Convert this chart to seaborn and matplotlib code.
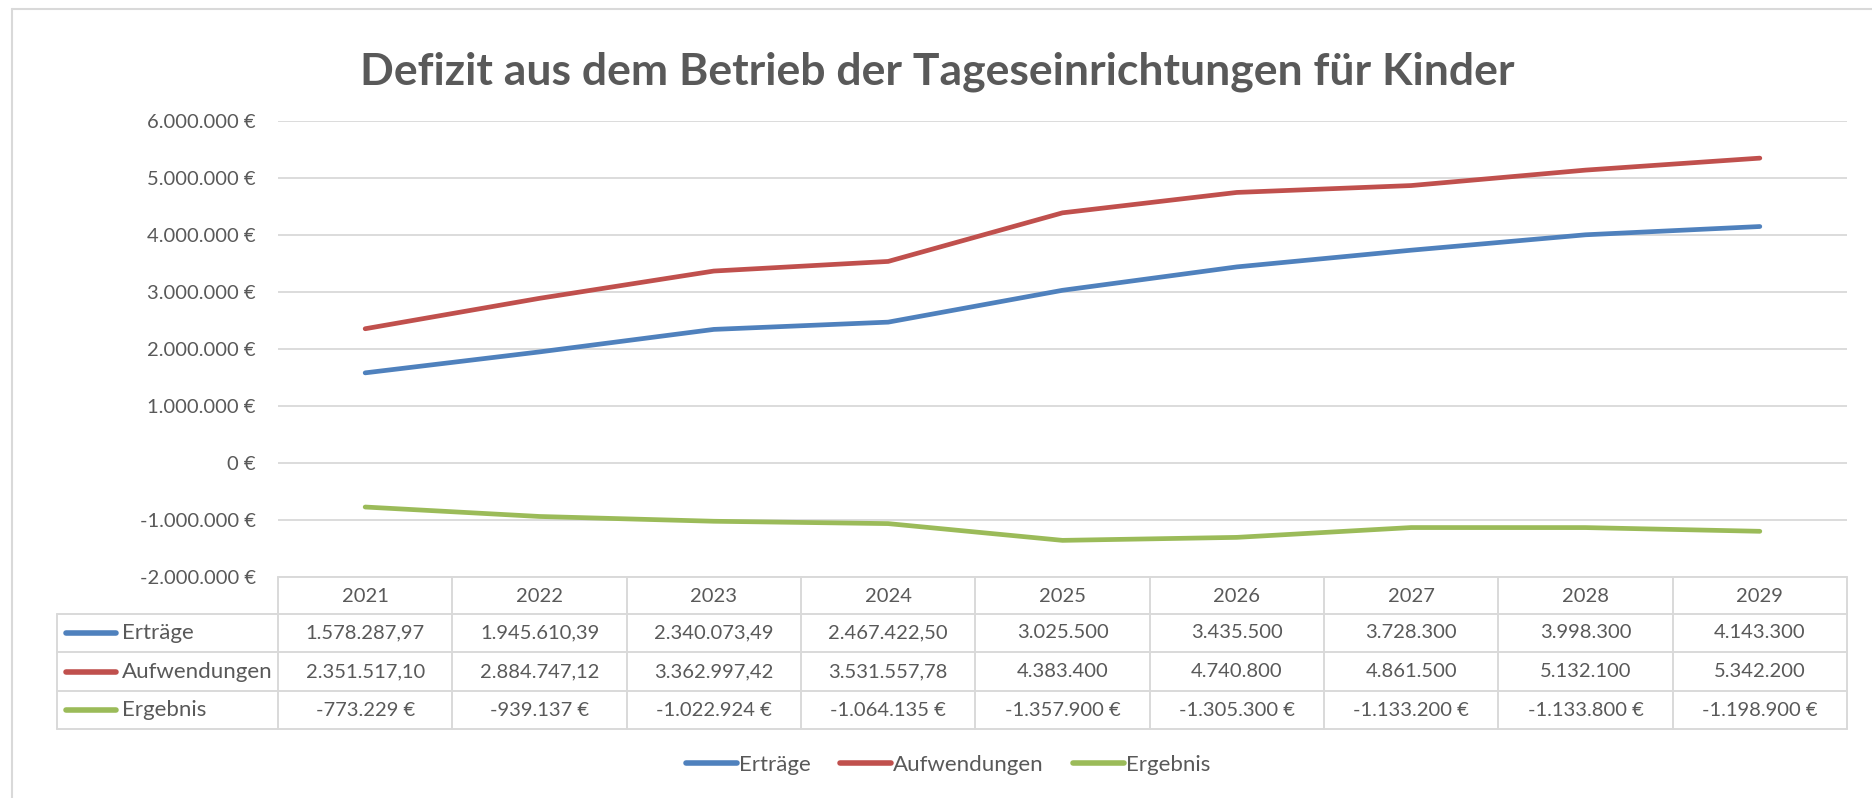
import numpy as np
import pandas as pd
import matplotlib
matplotlib.use("Agg")
import matplotlib.pyplot as plt
import seaborn as sns
from matplotlib.ticker import FuncFormatter, MultipleLocator
from matplotlib.lines import Line2D

years = ["2021", "2022", "2023", "2024", "2025", "2026", "2027", "2028", "2029"]
ertraege = [1578287.97, 1945610.39, 2340073.49, 2467422.50, 3025500, 3435500, 3728300, 3998300, 4143300]
aufwendungen = [2351517.10, 2884747.12, 3362997.42, 3531557.78, 4383400, 4740800, 4861500, 5132100, 5342200]
ergebnis = [-773229, -939137, -1022924, -1064135, -1357900, -1305300, -1133200, -1133800, -1198900]
series_names = ["Erträge", "Aufwendungen", "Ergebnis"]
colors = ["#4F81BD", "#C0504D", "#9BBB59"]

df = pd.DataFrame({
    "Jahr": years * 3,
    "Wert": ertraege + aufwendungen + ergebnis,
    "Reihe": [s for s in series_names for _ in years],
})


def de_num(v, decimals):
    s = f"{v:,.{decimals}f}"
    return s.replace(",", "X").replace(".", ",").replace("X", ".")


def cell_text(v, euro):
    if euro:
        return de_num(round(v), 0) + " €"
    if abs(v - round(v)) > 1e-9:
        return de_num(v, 2)
    return de_num(v, 0)


sns.set_theme(style="white")
plt.rcParams["font.family"] = ["Lato", "DejaVu Sans"]
txt = "#595959"
grid = "#D9D9D9"
num_fs = 14.5   # numbers
word_fs = 16    # words (row labels, legend)

W, H = 1872, 798
fig = plt.figure(figsize=(W / 100, H / 100), dpi=100)

# pixel-space overlay for frame and table
ov = fig.add_axes([0, 0, 1, 1])
ov.set_xlim(0, W)
ov.set_ylim(H, 0)
ov.axis("off")

# plot area
x0, x1 = 278, 1847
ytop, ybot = 120.6, 577
ax = fig.add_axes([x0 / W, 1 - ybot / H, (x1 - x0) / W, (ybot - ytop) / H])
sns.lineplot(data=df, x="Jahr", y="Wert", hue="Reihe", palette=colors,
             linewidth=3.4, sort=False, legend=False, ax=ax,
             solid_capstyle="round")
ax.set_xlim(-0.5, len(years) - 0.5)
ax.set_ylim(-2e6, 6e6)
ax.yaxis.set_major_locator(MultipleLocator(1e6))
ax.yaxis.set_major_formatter(FuncFormatter(lambda v, p: de_num(v, 0) + " €"))
ax.grid(axis="y", color=grid, linewidth=1.3)
ax.set_axisbelow(True)
for sp in ax.spines.values():
    sp.set_visible(False)
ax.set_xticks([])
ax.set_xlabel("")
ax.set_ylabel("")
ax.tick_params(axis="y", length=0, pad=16, labelsize=num_fs, labelcolor=txt)
ax.patch.set_alpha(0)

# outer chart frame (only top and left visible)
ov.plot([12, W], [9, 9], color=grid, lw=1.5)
ov.plot([12, 12], [9, H], color=grid, lw=1.5)

# title
fig.text(937 / W, 1 - 72 / H, "Defizit aus dem Betrieb der Tageseinrichtungen für Kinder",
         ha="center", va="center", fontsize=32, fontweight="bold", color=txt)

# data table
col_edges = np.linspace(x0, x1, len(years) + 1)
row_edges = [577, 614, 652, 691, 729]
left = 57
tlw = 1.4
ov.plot([x0, x1], [row_edges[0]] * 2, color=grid, lw=tlw)
for ry in row_edges[1:]:
    ov.plot([left, x1], [ry, ry], color=grid, lw=tlw)
ov.plot([left, left], [row_edges[1], row_edges[-1]], color=grid, lw=tlw)
for cx in col_edges:
    ov.plot([cx, cx], [row_edges[0], row_edges[-1]], color=grid, lw=tlw)

centers = (col_edges[:-1] + col_edges[1:]) / 2
hy = (row_edges[0] + row_edges[1]) / 2 + 1
for cx, yr in zip(centers, years):
    ov.text(cx, hy, yr, ha="center", va="center", fontsize=num_fs, color=txt)

all_vals = [ertraege, aufwendungen, ergebnis]
for i, (name, col, vals) in enumerate(zip(series_names, colors, all_vals)):
    ry = (row_edges[i + 1] + row_edges[i + 2]) / 2
    ov.plot([66, 116], [ry, ry], color=col, lw=4, solid_capstyle="round")
    ov.text(122, ry, name, ha="left", va="center", fontsize=word_fs, color=txt)
    for cx, v in zip(centers, vals):
        ov.text(cx, ry, cell_text(v, name == "Ergebnis"), ha="center", va="center",
                fontsize=num_fs, color=txt)

# legend
handles = [Line2D([0], [0], color=c, lw=4, solid_capstyle="round") for c in colors]
fig.legend(handles, series_names, loc="center", bbox_to_anchor=(948 / W, 1 - 765 / H),
           ncol=3, frameon=False, fontsize=word_fs, labelcolor=txt,
           handlelength=2.3, handletextpad=0.1, columnspacing=1.3,
           borderpad=0, borderaxespad=0)

fig.savefig("out.png", dpi=100)
